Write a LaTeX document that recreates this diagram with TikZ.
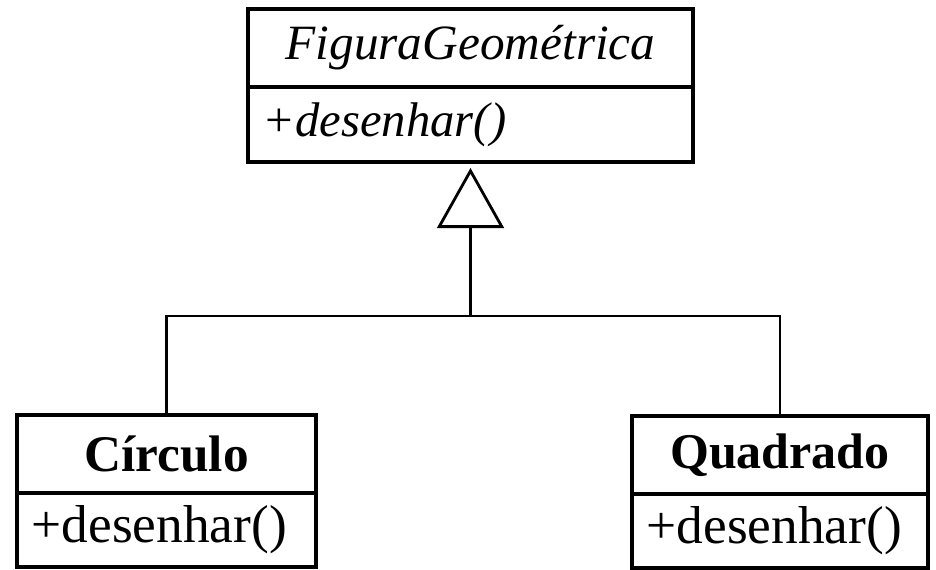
\documentclass[tikz,border=0pt]{standalone}
\usepackage{fontspec}
\setmainfont{Liberation Serif}
\usetikzlibrary{positioning,arrows.meta}
\tikzset{
  umlname/.style={draw, line width=2.3pt, outer sep=0pt, inner sep=0pt, minimum height=58.5pt, font=\fontsize{38}{42}\selectfont},
  umlops/.style={draw, line width=2.3pt, outer sep=0pt, inner sep=0pt, inner xsep=11pt, minimum height=55.5pt, align=left, font=\fontsize{40}{44}\selectfont},
  umlline/.style={line width=2.1pt},
}

\begin{document}
\begin{tikzpicture}[x=0.75pt, y=-0.75pt]
    \useasboundingbox (0,0) rectangle (936,569);
    \node[umlname, minimum width=333.75pt, font=\fontsize{37}{42}\selectfont\itshape] (figura) at (470.5,48) {FiguraGeométrica};
    \node[umlops, text width=311.75pt, minimum height=56.25pt, font=\fontsize{36.5}{42}\selectfont\itshape, below=0pt of figura] (figuraops) {+desenhar()};
    \node[umlname, minimum width=224.25pt, font=\fontsize{38.5}{42}\selectfont\bfseries] (circulo) at (166.5,454) {Círculo};
    \node[umlops, text width=202.25pt, below=0pt of circulo] (circuloops) {+desenhar()};
    \node[umlname, minimum width=222pt, font=\fontsize{37.5}{42}\selectfont\bfseries] (quadrado) at (780,455) {Quadrado};
    \node[umlops, text width=200pt, below=0pt of quadrado] (quadradoops) {+desenhar()};
    \coordinate (juncao) at (figuraops.south |- 0,316);
    \draw[umlline] (circulo.north) |- (juncao) -| (quadrado.north);
    \draw[umlline, -{Triangle[open, length=45pt, width=50pt]}, shorten >=4.5pt] (juncao) -- (figuraops.south);
\end{tikzpicture}
\end{document}
